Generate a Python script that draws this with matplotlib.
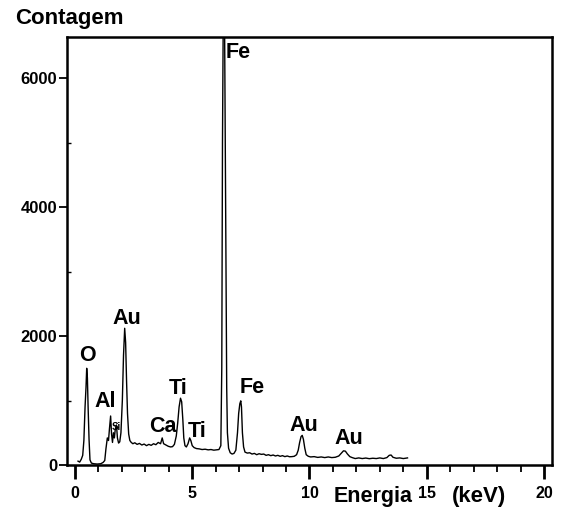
"""
EDS spectrum - Contagem vs Energia
"""

import matplotlib.pyplot as plt
from matplotlib.ticker import MultipleLocator

plt.rcParams['font.family'] = ['Liberation Sans', 'DejaVu Sans']
plt.rcParams['font.weight'] = 'bold'

# energy (keV) and counts
energy = [0.13, 0.20, 0.27, 0.33, 0.38, 0.43, 0.47, 0.50, 0.53, 0.56, 0.60, 0.64,
          0.70, 0.80, 0.95, 1.10, 1.20, 1.27, 1.32, 1.38, 1.43, 1.47, 1.52, 1.56,
          1.60, 1.64, 1.68, 1.72, 1.77, 1.81, 1.86, 1.91, 1.96, 2.02, 2.07, 2.12,
          2.16, 2.20, 2.24, 2.29, 2.34, 2.40, 2.47, 2.55, 2.65, 2.75, 2.85, 2.95,
          3.05, 3.15, 3.25, 3.35, 3.45, 3.55, 3.65, 3.72, 3.78, 3.88, 3.98, 4.08,
          4.16, 4.24, 4.32, 4.38, 4.44, 4.50, 4.55, 4.60, 4.64, 4.69, 4.75, 4.82,
          4.89, 4.94, 5.00, 5.08, 5.18, 5.30, 5.42, 5.55, 5.68, 5.80, 5.92, 6.04,
          6.14, 6.22, 6.26, 6.29, 6.32, 6.38, 6.41, 6.44, 6.47, 6.50, 6.55, 6.62,
          6.70, 6.78, 6.86, 6.93, 6.98, 7.03, 7.07, 7.10, 7.14, 7.19, 7.25, 7.35,
          7.45, 7.55, 7.65, 7.75, 7.85, 7.95, 8.05, 8.15, 8.25, 8.35, 8.45, 8.55,
          8.65, 8.75, 8.85, 8.95, 9.05, 9.15, 9.25, 9.35, 9.45, 9.52, 9.58, 9.64,
          9.69, 9.74, 9.80, 9.86, 9.95, 10.05, 10.2, 10.35, 10.5, 10.65, 10.8, 10.95,
          11.1, 11.25, 11.35, 11.45, 11.53, 11.62, 11.72, 11.82, 11.95, 12.1, 12.25, 12.4,
          12.55, 12.7, 12.85, 13.0, 13.15, 13.3, 13.4, 13.48, 13.56, 13.7, 13.85, 14.0,
          14.18]
counts = [60, 45, 90, 150, 380, 900, 1200, 1500, 1350, 900, 400, 80,
          30, 20, 15, 20, 40, 70, 250, 420, 380, 560, 760, 480,
          350, 500, 420, 560, 620, 420, 340, 360, 500, 1000, 1700, 2120,
          1900, 1300, 800, 480, 380, 350, 330, 345, 320, 335, 310, 325,
          300, 320, 305, 330, 315, 350, 330, 420, 330, 310, 290, 280,
          285, 320, 450, 650, 900, 1036, 980, 700, 420, 300, 280, 330,
          420, 380, 300, 270, 255, 250, 240, 245, 235, 240, 230, 235,
          240, 300, 1500, 5000, 6800, 6800, 5000, 3000, 1200, 500, 260, 190,
          170, 180, 230, 500, 800, 950, 995, 900, 500, 280, 200, 185,
          190, 170, 180, 160, 175, 165, 170, 150, 160, 145, 155, 140,
          150, 135, 145, 130, 140, 128, 130, 135, 160, 230, 350, 440,
          460, 400, 260, 160, 135, 125, 130, 118, 125, 115, 125, 115,
          120, 140, 180, 220, 215, 170, 130, 115, 100, 110, 100, 108,
          98, 105, 100, 110, 100, 115, 150, 155, 120, 105, 110, 100,
          110]

# peak labels
peak_names = ['O', 'Al', 'Au', 'Ca', 'Ti', 'Ti', 'Fe', 'Au', 'Au']
peak_x = [0.55, 1.28, 2.2, 3.73, 4.38, 5.23, 7.56, 9.74, 11.67]
peak_y = [1700, 980, 2270, 590, 1190, 515, 1207, 620, 413]

fig = plt.figure(figsize=(5.63, 5.11), dpi=100)
ax = fig.add_axes([0.119, 0.090, 0.861, 0.838])

ax.plot(energy, counts, color='black', lw=1.0)

for name, px, py in zip(peak_names, peak_x, peak_y):
    ax.text(px, py, name, fontsize=15.5, fontweight='bold', ha='center', va='center')
ax.text(1.75, 590, 'Si', fontsize=7, fontweight='bold', ha='center', va='center')
ax.text(6.43, 6390, 'Fe', fontsize=15.5, fontweight='bold', ha='left', va='center')

ax.set_xlim(-0.34, 20.33)
ax.set_ylim(0, 6640)
ax.xaxis.set_major_locator(MultipleLocator(5))
ax.xaxis.set_minor_locator(MultipleLocator(1))
ax.yaxis.set_major_locator(MultipleLocator(2000))
ax.yaxis.set_minor_locator(MultipleLocator(1000))
ax.tick_params(axis='x', which='major', direction='out', length=10, width=2, pad=5, labelsize=11.5)
ax.tick_params(axis='x', which='minor', direction='out', length=5, width=1.3)
ax.tick_params(axis='y', which='major', direction='out', length=6, width=1.3, pad=1, labelsize=12)
ax.tick_params(axis='y', which='minor', direction='in', length=3, width=1)
for lab in ax.get_xticklabels() + ax.get_yticklabels():
    lab.set_fontweight('bold')
for sp in ax.spines.values():
    sp.set_linewidth(1.8)

fig.text(0.027, 0.963, 'Contagem', fontsize=16, fontweight='bold', ha='left', va='center')
fig.text(0.662, 0.029, 'Energia', fontsize=15.5, fontweight='bold', ha='center', va='center')
fig.text(0.850, 0.029, '(keV)', fontsize=16, fontweight='bold', ha='center', va='center')

plt.savefig('out.png', dpi=100)
